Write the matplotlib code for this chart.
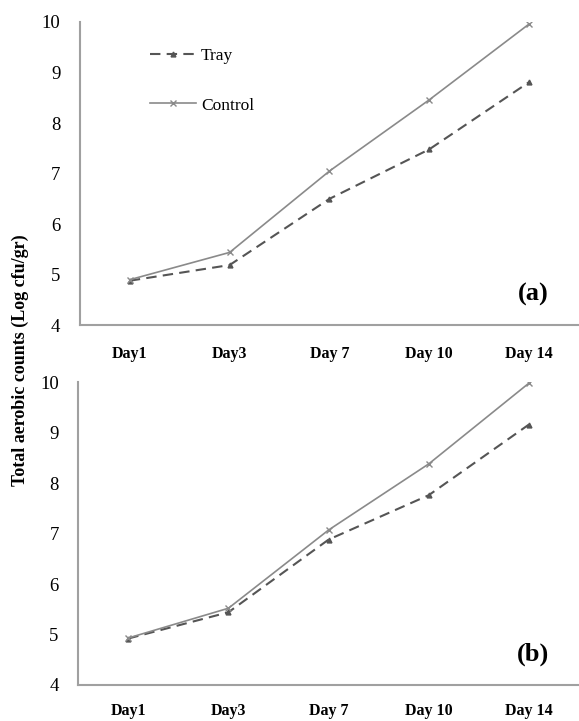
import matplotlib
matplotlib.use("Agg")
import matplotlib.pyplot as plt

days = ["Day1", "Day3", "Day 7", "Day 10", "Day 14"]
tray_a = [4.88, 5.19, 6.50, 7.48, 8.81]
control_a = [4.90, 5.44, 7.05, 8.46, 9.96]
tray_b = [4.92, 5.44, 6.88, 7.76, 9.16]
control_b = [4.93, 5.52, 7.07, 8.38, 9.98]
yticks = [4, 5, 6, 7, 8, 9, 10]

SERIF = "Liberation Serif"
TRAY_C = "#555555"
CTRL_C = "#8a8a8a"


def panel(ax, tray, control, tag, xpad, legend=False):
    x = range(len(days))
    ax.plot(x, tray, "--", color=TRAY_C, lw=1.5, dashes=(5, 3),
            marker="^", ms=3.5, label="Tray")
    ax.plot(x, control, "-", color=CTRL_C, lw=1.2,
            marker="x", ms=4, mew=1, label="Control")
    ax.set_xlim(-0.5, 4.5)
    ax.set_ylim(4, 10)
    ax.set_yticks(yticks)
    ax.set_xticks(list(x))
    ax.set_xticklabels(days, fontfamily=SERIF, fontweight="bold", fontsize=11.5)
    ax.set_yticklabels([str(v) for v in yticks], fontfamily=SERIF, fontsize=13.5)
    ax.tick_params(axis="x", length=0, pad=xpad)
    ax.tick_params(axis="y", length=0, pad=14)
    for s in ("top", "right"):
        ax.spines[s].set_visible(False)
    for s in ("left", "bottom"):
        ax.spines[s].set_color("#a0a0a0")
        ax.spines[s].set_linewidth(1.5)
    ax.text(0.94, 0.1, tag, transform=ax.transAxes, ha="right", va="center",
            fontfamily=SERIF, fontweight="bold", fontsize=19)
    if legend:
        ax.legend(loc="upper left", bbox_to_anchor=(0.11, 0.965), frameon=False,
                  prop={"family": SERIF, "size": 12.5}, labelspacing=1.9,
                  handlelength=2.6, handletextpad=0.3)


fig = plt.figure(figsize=(5.79, 7.21), dpi=100)
ax1 = fig.add_axes([0.138, 0.549, 0.862, 0.4205])
ax2 = fig.add_axes([0.135, 0.05, 0.865, 0.42])
panel(ax1, tray_a, control_a, "(a)", xpad=15, legend=True)
panel(ax2, tray_b, control_b, "(b)", xpad=13)

fig.text(0.035, 0.5, "Total aerobic counts (Log cfu/gr)", rotation=90,
         ha="center", va="center", fontfamily=SERIF, fontweight="bold", fontsize=13)

fig.savefig("out.png", dpi=100)
